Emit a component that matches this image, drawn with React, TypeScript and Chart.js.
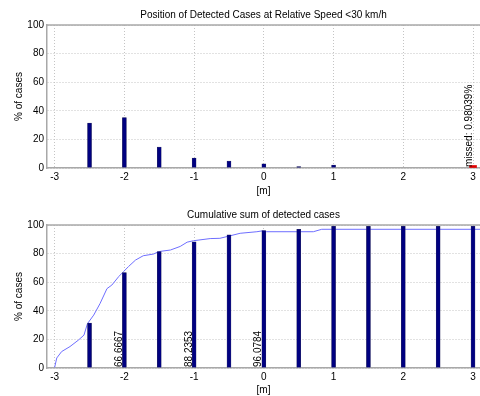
import React, { useEffect, useRef } from "react";
import { Chart, registerables } from "chart.js";

Chart.register(...registerables);

// ---- data ----
const binPositions = [-2.5, -2, -1.5, -1, -0.5, 0, 0.5, 1, 1.5, 2, 2.5, 3];
const detectedPct = [31.3725, 35.2941, 14.7059, 6.8627, 4.902, 2.9412, 0.9804, 1.9608, 0, 0, 0, 0];
const cumulativePct = [31.3725, 66.6667, 81.3725, 88.2353, 93.1373, 96.0784, 97.0588, 99.0196, 99.0196, 99.0196, 99.0196, 99.0196];
const missedX = 3;
const missedPct = 0.98039;
const cumLabelPositions = [-2, -1, 0];
const cumLabelValues = [66.6667, 88.2353, 96.0784];
const curveX = [-3.0, -2.97, -2.9, -2.78, -2.66, -2.58, -2.53, -2.44, -2.35, -2.25, -2.18, -2.08, -2.01, -1.94, -1.84, -1.73, -1.58, -1.51, -1.34, -1.2, -1.1, -1.01, -0.77, -0.63, -0.48, -0.34, -0.1, -0.01, 0.04, 0.71, 0.83, 3.1];
const curveY = [0.5, 7, 11.5, 15, 19.5, 23, 31, 37, 45, 55.5, 58, 64, 67.5, 71, 75.5, 78.5, 79.7, 81.4, 82.5, 85, 88, 89, 90.5, 90.7, 92.5, 94.2, 95.3, 96, 95.3, 95.3, 97, 97];
const xMin = -3.11;
const xMax = 3.1;
const yMin = 0;
const yMax = 100;
const xStep = 1;
const yStep = 20;

const FONT = "'Liberation Sans', Arial, sans-serif";
const FS = 10;
const NAVY = "#000080";
const GRID = "#c4c4c4";
const AXIS = "#a8a8a8";

function boxPlugin() {
  return {
    id: "boxTop",
    beforeDatasetsDraw(chart: any) {
      const { ctx, chartArea } = chart;
      ctx.save();
      ctx.strokeStyle = AXIS;
      ctx.lineWidth = 1.5;
      ctx.beginPath();
      ctx.moveTo(chartArea.left, chartArea.top);
      ctx.lineTo(chartArea.right, chartArea.top);
      ctx.stroke();
      ctx.restore();
    },
  };
}

function rotTextPlugin(items: { x: number; text: string }[], dx: number) {
  return {
    id: "rotText",
    afterDatasetsDraw(chart: any) {
      const { ctx } = chart;
      const xs = chart.scales.x;
      const ys = chart.scales.y;
      ctx.save();
      ctx.font = `${FS}px ${FONT}`;
      ctx.fillStyle = "#000";
      ctx.textAlign = "left";
      ctx.textBaseline = "alphabetic";
      for (const it of items) {
        const px = xs.getPixelForValue(it.x);
        const py = ys.getPixelForValue(0);
        ctx.save();
        ctx.translate(px + dx, py - 1);
        ctx.rotate(-Math.PI / 2);
        ctx.fillText(it.text, 0, 0);
        ctx.restore();
      }
      ctx.restore();
    },
  };
}

function scales(xHeight: number, xTitlePadBottom: number) {
  return {
    x: {
      type: "linear" as const,
      min: xMin,
      max: xMax,
      offset: false,
      afterFit: (s: any) => {
        s.height = xHeight;
      },
      ticks: {
        stepSize: xStep,
        includeBounds: false,
        padding: 3,
        color: "#000",
        font: { family: FONT, size: FS },
        maxRotation: 0,
      },
      grid: { color: GRID, drawTicks: false, offset: false },
      border: { color: AXIS, width: 1.5, dash: [1, 2] },
      title: {
        display: true,
        text: "[m]",
        color: "#000",
        font: { family: FONT, size: FS },
        padding: { top: 0, bottom: xTitlePadBottom },
      },
    },
    y: {
      type: "linear" as const,
      min: yMin,
      max: yMax,
      afterFit: (s: any) => {
        s.width = 47;
      },
      ticks: {
        stepSize: yStep,
        padding: 3,
        color: "#000",
        font: { family: FONT, size: FS },
      },
      grid: { color: GRID, drawTicks: false },
      border: { color: AXIS, width: 1.5, dash: [1, 2] },
      title: {
        display: true,
        text: "% of cases",
        color: "#000",
        font: { family: FONT, size: FS },
        padding: { top: 13, bottom: 0 },
      },
    },
  };
}

function titleOpts(text: string) {
  return {
    display: true,
    text,
    fullSize: false,
    color: "#000",
    font: { family: FONT, size: FS, weight: "normal" as const },
    padding: { top: 9, bottom: 4 },
  };
}

export default function App() {
  const topRef = useRef<HTMLCanvasElement>(null);
  const botRef = useRef<HTMLCanvasElement>(null);

  useEffect(() => {
    const top = new Chart(topRef.current!, {
      type: "bar",
      data: {
        datasets: [
          {
            data: binPositions.map((x, i) => ({ x, y: detectedPct[i] })),
            backgroundColor: NAVY,
            borderColor: "#303060",
            borderWidth: 0.5,
            barThickness: 4,
            grouped: false,
          } as any,
          {
            data: [{ x: missedX, y: missedPct }],
            backgroundColor: "#e00000",
            borderWidth: 0,
            barThickness: 7,
            minBarLength: 2.5,
            grouped: false,
          } as any,
        ],
      },
      options: {
        responsive: false,
        animation: false,
        devicePixelRatio: 1,
        layout: { padding: 0 },
        plugins: {
          legend: { display: false },
          tooltip: { enabled: false },
          title: titleOpts("Position of Detected Cases at Relative Speed <30 km/h"),
        },
        scales: scales(32, 2.5) as any,
      },
      plugins: [
        boxPlugin(),
        rotTextPlugin([{ x: missedX, text: `missed: ${missedPct}%` }], -1),
      ],
    });

    const bot = new Chart(botRef.current!, {
      type: "bar",
      data: {
        datasets: [
          {
            type: "line",
            data: curveX.map((x, i) => ({ x, y: curveY[i] })),
            borderColor: "#6e6eff",
            borderWidth: 1,
            pointRadius: 0,
            tension: 0,
            fill: false,
            order: 2,
          } as any,
          {
            type: "bar",
            data: binPositions.map((x, i) => ({ x, y: cumulativePct[i] })),
            backgroundColor: NAVY,
            borderColor: "#303060",
            borderWidth: 0.5,
            barThickness: 4,
            grouped: false,
            order: 1,
          } as any,
        ],
      },
      options: {
        responsive: false,
        animation: false,
        devicePixelRatio: 1,
        layout: { padding: 0 },
        plugins: {
          legend: { display: false },
          tooltip: { enabled: false },
          title: titleOpts("Cumulative sum of detected cases"),
        },
        scales: scales(28, 0) as any,
      },
      plugins: [
        boxPlugin(),
        rotTextPlugin(
          cumLabelPositions.map((x, i) => ({ x, text: String(cumLabelValues[i]) })),
          -2.5
        ),
      ],
    });

    return () => {
      top.destroy();
      bot.destroy();
    };
  }, []);

  return (
    <div style={{ position: "fixed", left: 0, top: 0, width: 480, height: 396, background: "#fff" }}>
      <canvas ref={topRef} width={480} height={200} style={{ display: "block" }} />
      <canvas ref={botRef} width={480} height={196} style={{ display: "block" }} />
    </div>
  );
}
